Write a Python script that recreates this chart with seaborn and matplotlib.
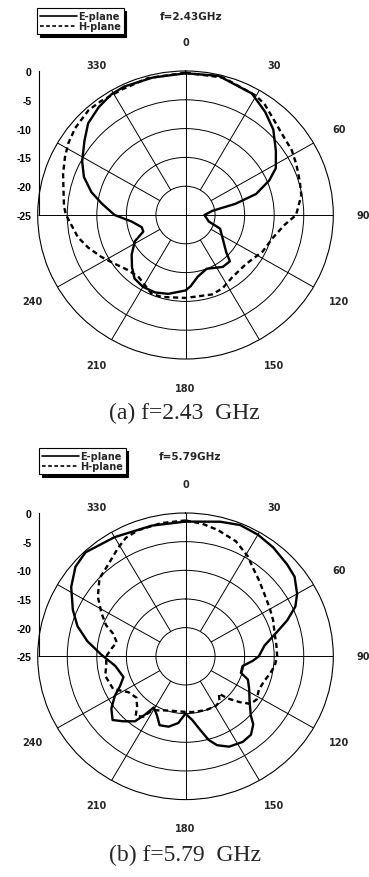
import numpy as np
import pandas as pd
import matplotlib
matplotlib.use("Agg")
import matplotlib.pyplot as plt
from matplotlib.ticker import MultipleLocator
import seaborn as sns

sns.set_style("white")
plt.rcParams['font.family'] = ['DejaVu Sans']

# ---------------- data (angle in degrees, level in dB) ----------------
titles = ["f=2.43GHz", "f=5.79GHz"]
captions = ["(a) f=2.43  GHz", "(b) f=5.79  GHz"]
series_names = ["E-plane", "H-plane"]

e1_deg = [0, 13, 28, 37, 45, 54, 62, 67, 73, 77, 81, 90, 106, 112, 123, 133, 137,
          145, 159, 169, 176, 180, 192, 201, 210, 218, 225, 233, 242, 248, 254,
          263, 270, 278, 284, 291, 298, 307, 314, 322, 329, 335, 347, 360]
e1_db = [-0.4, -0.2, -1.1, -2.6, -4.0, -6.1, -7.7, -9.6, -12.5, -16.3, -20.4, -21.8,
         -20.9, -18.7, -17.5, -15.6, -14.0, -14.0, -15.0, -14.1, -12.6, -11.9, -11.0,
         -10.6, -10.6, -11.0, -12.2, -13.6, -15.3, -17.3, -17.3, -15.8, -13.0, -10.7,
         -8.6, -6.6, -5.2, -3.6, -2.1, -1.2, -0.6, -0.4, -0.5, -0.4]

h1_deg = [0, 15, 30, 35, 42, 50, 58, 65, 73, 80, 90, 96, 105, 116, 130, 144, 154,
          162, 180, 196, 203, 216, 225, 235, 243, 251, 258, 265, 270, 274, 282, 289,
          296, 302, 309, 318, 324, 334, 345, 360]
h1_db = [-0.3, -0.3, -1.1, -1.6, -2.7, -3.5, -3.8, -4.3, -4.8, -5.1, -6.3, -8.2,
         -9.7, -10.5, -11.7, -11.6, -10.8, -10.5, -10.6, -10.2, -10.2, -11.6, -11.4,
         -10.3, -9.0, -7.6, -6.4, -5.6, -4.8, -4.4, -3.9, -3.1, -2.3, -1.6, -1.0,
         -0.5, -0.6, -0.7, -0.4, -0.3]

e2_deg = [0, 14, 22, 30, 38, 47, 53, 60, 65, 70, 75, 82, 90, 94, 100, 107, 111, 118,
          126, 133, 136, 141, 147, 155, 161, 165, 169, 174, 180, 186, 193, 200, 205,
          211, 214, 217, 223, 228, 234, 240, 245, 251, 262, 271, 279, 286, 293, 302,
          310, 317, 330, 346, 360]
e2_db = [-1.5, -0.8, -0.3, -0.5, -0.9, -1.5, -1.9, -3.2, -4.5, -6.7, -9.1, -11.5,
         -12.6, -13.6, -15.2, -15.2, -13.7, -12.8, -11.6, -9.9, -8.5, -7.4, -7.2,
         -7.6, -8.6, -9.9, -11.9, -13.8, -15.0, -13.3, -12.4, -12.2, -13.6, -14.6,
         -12.7, -10.8, -9.5, -8.4, -9.5, -11.2, -12.8, -13.9, -13.0, -10.8, -8.2,
         -6.0, -4.3, -2.2, -0.7, -0.2, -1.0, -1.5, -1.5]

h2_deg = [0, 7, 14, 23, 31, 37, 43, 51, 60, 67, 75, 83, 90, 96, 102, 108, 115, 122,
          127, 131, 136, 139, 144, 150, 160, 173, 180, 190, 201, 211, 214, 219, 223,
          229, 237, 245, 256, 263, 270, 276, 282, 288, 292, 298, 305, 313, 321, 329,
          334, 340, 350, 360]
h2_db = [-1.3, -1.7, -2.3, -3.2, -4.6, -5.9, -6.8, -7.8, -8.5, -8.9, -9.4, -9.5,
         -9.5, -9.8, -10.4, -11.0, -11.3, -10.8, -11.2, -12.8, -14.8, -16.4, -15.2,
         -14.9, -15.0, -15.2, -15.3, -15.3, -14.9, -14.0, -12.3, -11.6, -13.0, -14.0,
         -13.5, -11.5, -11.0, -11.5, -11.6, -12.4, -13.1, -12.1, -10.5, -8.9, -6.9,
         -5.1, -4.3, -2.9, -2.0, -1.6, -1.4, -1.3]

panels = [
    {"E": (e1_deg, e1_db), "H": (h1_deg, h1_db)},
    {"E": (e2_deg, e2_db), "H": (h2_deg, h2_db)},
]

angle_ticks = [0, 30, 60, 90, 120, 150, 180, 210, 240, 330]
radial_ticks = [0, -5, -10, -15, -20, -25]
rings = [-20, -15, -10, -5]

# ---------------- layout (figure pixels 369 x 878) ----------------
W, H = 369, 878
fig = plt.figure(figsize=(W / 100, H / 100), dpi=100)
fig.patch.set_facecolor("white")

polar_boxes = [(37.7, 72, 295.6, 288), (37.7, 514, 295.6, 286.6)]  # left, top, w, h px
title_pos = [(191, 17), (190, 457)]
legend_pos = [(37, 9), (39, 449)]
caption_pos = [(184, 413), (185, 855)]

for i, panel in enumerate(panels):
    lx, ty, w, h = polar_boxes[i]
    ax = fig.add_axes([lx / W, 1 - (ty + h) / H, w / W, h / H], projection="polar")
    ax.set_theta_zero_location("N")
    ax.set_theta_direction(-1)
    ax.set_ylim(-25, 0)
    ax.set_aspect("auto")
    ax.set_facecolor("white")

    # rings
    ax.set_yticks(rings)
    ax.set_yticklabels([])
    ax.yaxis.grid(True, color="black", lw=0.7)
    ax.set_xticks([])
    ax.xaxis.grid(False)
    ax.spines["polar"].set_linewidth(0.8)
    ax.spines["polar"].set_color("black")

    # spokes
    diam = np.deg2rad([0, 90, 180, 270])
    spokes = np.deg2rad([a for a in range(0, 360, 30) if a % 90 != 0])
    ax.vlines(diam, -25, 0, colors="black", lw=0.7)
    ax.vlines(spokes, -20, 0, colors="black", lw=0.7)

    # curves
    for name in series_names:
        deg, db = panel[name[0]]
        df = pd.DataFrame({"theta": np.deg2rad(deg), "level": db})
        ls = "-" if name == "E-plane" else (0, (2.2, 1.5))
        sns.lineplot(data=df, x="theta", y="level", ax=ax, sort=False,
                     estimator=None, color="black", lw=1.7, linestyle=ls,
                     label=name)
    handles, labels = ax.get_legend_handles_labels()
    if ax.get_legend() is not None:
        ax.get_legend().remove()
    ax.set_xlabel("")
    ax.set_ylabel("")

    # angle labels
    for a in angle_ticks:
        ax.text(np.deg2rad(a), 5.0, str(a), ha="center", va="center",
                fontsize=7, fontweight="bold", family="DejaVu Sans",
                clip_on=False)

    # left radial scale
    cy = ty + h / 2
    lax = fig.add_axes([38.5 / W, 1 - cy / H, 0.08, (cy - ty) / H])
    lax.set_facecolor("none")
    for s in ["top", "right", "bottom"]:
        lax.spines[s].set_visible(False)
    lax.spines["left"].set_linewidth(0.8)
    lax.spines["left"].set_color("black")
    lax.set_ylim(-25, 0)
    lax.set_xticks([])
    lax.set_yticks(radial_ticks)
    lax.set_yticklabels([str(t) for t in radial_ticks], fontsize=7.5,
                        fontweight="bold", family="Liberation Sans")
    lax.yaxis.set_minor_locator(MultipleLocator(1))
    lax.tick_params(axis="y", which="major", direction="in", length=3.5,
                    width=0.8, pad=5, colors="black")
    lax.tick_params(axis="y", which="minor", direction="in", length=1.8,
                    width=0.6)

    # legend
    lgx, lgy = legend_pos[i]
    leg = fig.legend(handles, labels, loc="upper left",
                     bbox_to_anchor=(lgx / W, 1 - lgy / H), frameon=True,
                     fancybox=False, shadow={"color": "black", "alpha": 1},
                     prop={"size": 7, "weight": "bold", "family": "DejaVu Sans"},
                     handlelength=3.8, handletextpad=0.1, borderpad=0.3,
                     labelspacing=0.05, borderaxespad=0)
    leg.get_frame().set_edgecolor("black")
    leg.get_frame().set_linewidth(0.8)
    for ln in leg.get_lines():
        ln.set_linewidth(1.2)

    # title and caption
    tx, tyy = title_pos[i]
    fig.text(tx / W, 1 - tyy / H, titles[i], ha="center", va="center",
             fontsize=7.5, fontweight="bold", family="DejaVu Sans")
    cx, cyy = caption_pos[i]
    fig.text(cx / W, 1 - cyy / H, captions[i], ha="center", va="center",
             fontsize=17, family=["Liberation Serif", "DejaVu Serif"])

fig.savefig("out.png", dpi=100, facecolor="white")
